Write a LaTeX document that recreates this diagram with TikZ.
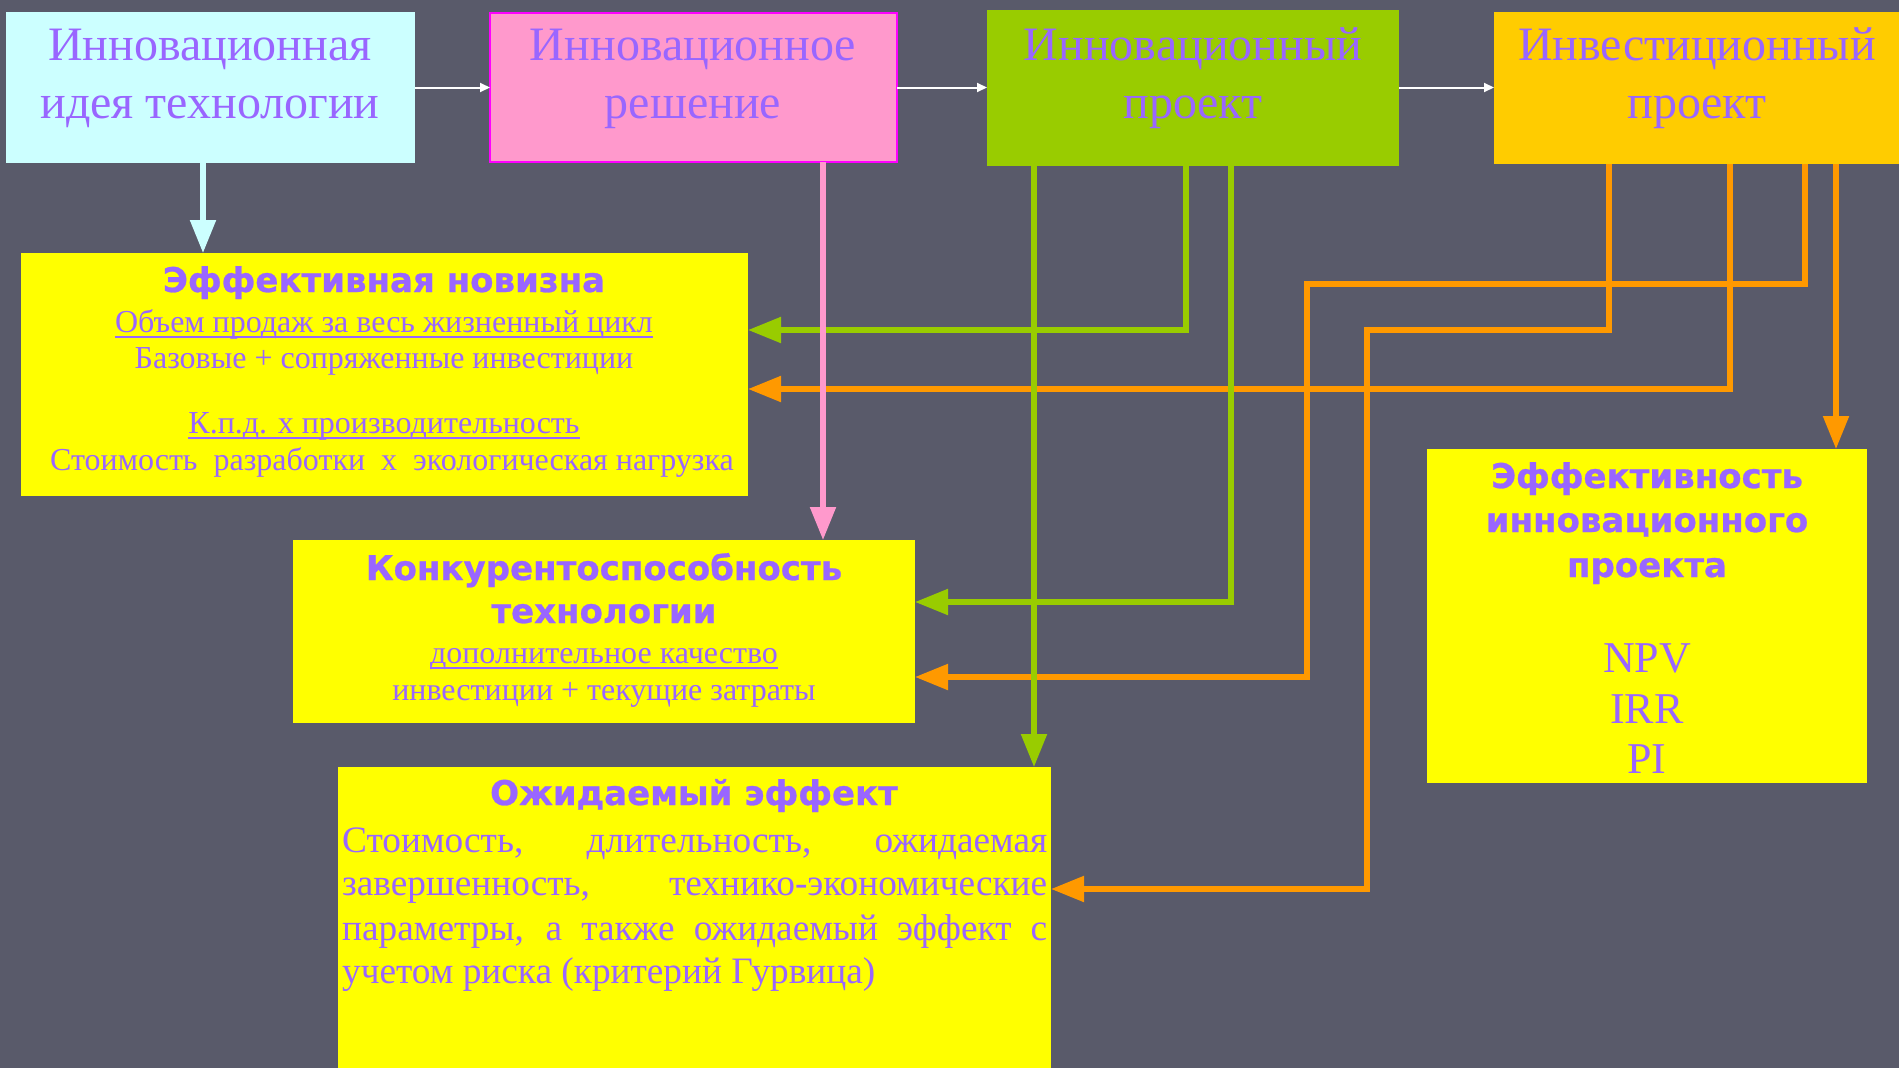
\documentclass[tikz,border=0pt]{standalone}
\usepackage{fontspec}
\setmainfont{Liberation Serif}
\newfontfamily\bsans[FakeBold=0.8]{DejaVu Sans}
\usetikzlibrary{arrows.meta}
\definecolor{bg}{RGB}{89,90,106}
\definecolor{txt}{HTML}{9966FF}
\definecolor{cyanbox}{HTML}{CCFFFF}
\definecolor{pinkbox}{HTML}{FF99CC}
\definecolor{magentaline}{HTML}{FF00FF}
\definecolor{greenbox}{HTML}{99CC00}
\definecolor{goldbox}{HTML}{FFCC00}
\definecolor{yellowbox}{HTML}{FFFF00}
\definecolor{orangeline}{HTML}{FF9900}
\newcommand\myul[1]{\setbox0\hbox{#1}\rlap{\rule[-6pt]{\wd0}{2.5pt}}\box0}
\begin{document}
\begin{tikzpicture}[x=1pt,y=-1pt,
  box/.style={rectangle, inner sep=0pt, outer sep=0pt, anchor=north west},
  tl/.style={text=txt, inner sep=0pt, anchor=base},
  big/.style={font=\fontsize{48pt}{58pt}\selectfont},
  mid/.style={font=\fontsize{32pt}{38pt}\selectfont},
  bodyf/.style={font=\fontsize{37.3pt}{44pt}\selectfont},
  met/.style={font=\fontsize{44pt}{50pt}\selectfont},
  hd/.style={font=\bsans\bfseries\fontsize{34pt}{40pt}\selectfont},
  link/.style={line width=5.2pt, -{Triangle[length=33pt,width=25pt]}},
  flow/.style={draw=white, line width=2pt, -{Triangle[length=10pt,width=9pt]}}
]
\useasboundingbox (0,0) rectangle (1899,1068);
\fill[bg] (0,0) rectangle (1899,1068);

% top boxes
\node[box, fill=cyanbox, minimum width=409pt, minimum height=151pt] (b1) at (6,12) {};
\node[box, fill=pinkbox, draw=magentaline, line width=2pt, minimum width=407pt, minimum height=149pt] (b2) at (490,13) {};
\node[box, fill=greenbox, minimum width=412pt, minimum height=156pt] (b3) at (987,10) {};
\node[box, fill=goldbox, minimum width=410pt, minimum height=152pt] (b4) at (1494,12) {};

% yellow boxes
\node[box, fill=yellowbox, minimum width=727pt, minimum height=243pt] (b5) at (21,253) {};
\node[box, fill=yellowbox, minimum width=622pt, minimum height=183pt] (b6) at (293,540) {};
\node[box, fill=yellowbox, minimum width=713pt, minimum height=310pt] (b7) at (338,767) {};
\node[box, fill=yellowbox, minimum width=440pt, minimum height=334pt] (b8) at (1427,449) {};

% texts of top boxes
\node[tl, big] (t1a) at (210,60) {Инновационная};
\node[tl, big] (t1b) at (210,118) {идея технологии};
\node[tl, big] (t2a) at (693,60) {Инновационное};
\node[tl, big] (t2b) at (693,118) {решение};
\node[tl, big] (t3a) at (1193,60) {Инновационный};
\node[tl, big] (t3b) at (1193,118) {проект};
\node[tl, big] (t4a) at (1697,60) {Инвестиционный};
\node[tl, big] (t4b) at (1697,118) {проект};

% box 5
\node[tl, hd] (t5a) at (384,292) {Эффективная новизна};
\node[tl, mid] (t5b) at (384,332) {\myul{Объем продаж за весь жизненный цикл}};
\node[tl, mid] (t5c) at (384,368) {Базовые + сопряженные инвестиции};
\node[tl, mid] (t5d) at (384,433) {\myul{К.п.д. х производительность}};
\node[tl, mid] (t5e) at (392,470) {Стоимость\ \ разработки\ \ х\ \ экологическая нагрузка};

% box 6
\node[tl, hd] (t6a) at (604,580) {Конкурентоспособность};
\node[tl, hd] (t6b) at (604,623) {технологии};
\node[tl, mid] (t6c) at (604,663) {\myul{дополнительное качество}};
\node[tl, mid] (t6d) at (604,700) {инвестиции + текущие затраты};

% box 7
\node[tl, hd] (t7a) at (694,805) {Ожидаемый эффект};
\node[tl, bodyf, anchor=base west] (t7b) at (342,852) {\makebox[705pt][s]{Стоимость, длительность, ожидаемая}};
\node[tl, bodyf, anchor=base west] (t7c) at (342,895) {\makebox[705pt][s]{завершенность, технико-экономические}};
\node[tl, bodyf, anchor=base west] (t7d) at (342,940) {\makebox[705pt][s]{параметры, а также ожидаемый эффект с}};
\node[tl, bodyf, anchor=base west] (t7e) at (342,983) {учетом риска (критерий Гурвица)};

% box 8
\node[tl, hd] (t8a) at (1647,488) {Эффективность};
\node[tl, hd] (t8b) at (1647,532) {инновационного};
\node[tl, hd] (t8c) at (1647,577) {проекта};
\node[tl, met] (t8d) at (1647,672) {NPV};
\node[tl, met] (t8e) at (1647,723) {IRR};
\node[tl, met] (t8f) at (1647,773) {PI};

% helper coordinates
\coordinate (xc) at (203,0);
\coordinate (xp) at (823,0);
\coordinate (g1) at (1034,0);
\coordinate (g2) at (1186,330);
\coordinate (g3) at (1231,602);
\coordinate (oa1) at (1609,330);
\coordinate (oa2) at (1367,889);
\coordinate (ob1) at (1730,389);
\coordinate (oc1) at (1805,284);
\coordinate (oc2) at (1307,677);
\coordinate (od) at (1836,0);

% white flow arrows
\draw[flow] (b1.east) -- (b1.east -| b2.west);
\draw[flow] (b2.east) -- (b2.east -| b3.west);
\draw[flow] (b2.east -| b3.east) -- (b2.east -| b4.west);

% orange connectors
\draw[link, orangeline] (b4.south -| oa1) -- (oa1) -| (oa2) -- (b7.east |- oa2);
\draw[link, orangeline] (b4.south -| ob1) -- (ob1) -- (b5.east |- ob1);
\draw[link, orangeline] (b4.south -| oc1) -- (oc1) -| (oc2) -- (b6.east |- oc2);
\draw[link, orangeline] (b4.south -| od) -- (b8.north -| od);

% green connectors
\draw[link, greenbox] (b3.south -| g2) -- (g2) -- (b5.east |- g2);
\draw[link, greenbox] (b3.south -| g3) -- (g3) -- (b6.east |- g3);
\draw[link, greenbox] (b3.south -| g1) -- (b7.north -| g1);

% pink and cyan
\draw[link, pinkbox] (b2.south -| xp) -- (b6.north -| xp);
\draw[link, cyanbox] (b1.south -| xc) -- (b5.north -| xc);
\end{tikzpicture}
\end{document}
